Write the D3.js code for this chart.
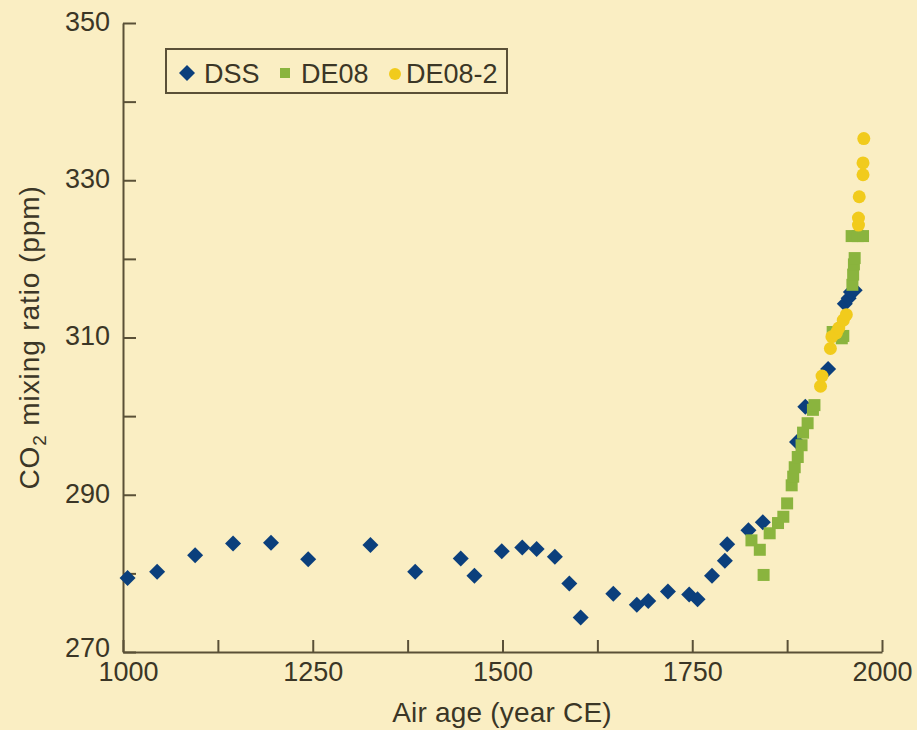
<!DOCTYPE html>
<html>
<head>
<meta charset="utf-8">
<script src="https://cdn.jsdelivr.net/npm/d3@7"></script>
<style>
  html, body { margin: 0; padding: 0; background: #faeec3; }
  svg { display: block; }
  text { font-family: "Liberation Sans", Arial, sans-serif; fill: #3b3626; }
</style>
</head>
<body>
<svg id="chart" width="917" height="730"></svg>
<script>
// CO2 mixing ratio (ppm) by air age (year CE), three ice-core records
const dssYears = [1006, 1045, 1095, 1145, 1195, 1244, 1326, 1385, 1445, 1463,
  1499, 1526, 1545, 1569, 1588, 1603, 1646, 1677, 1692, 1718, 1746, 1757,
  1776, 1793, 1796, 1824, 1843, 1888, 1899, 1929, 1951, 1956, 1959, 1964];
const dssPpm = [279.4, 280.2, 282.3, 283.8, 283.9, 281.8, 283.6, 280.2, 281.9, 279.7,
  282.8, 283.3, 283.1, 282.1, 278.7, 274.4, 277.4, 276.0, 276.5, 277.7, 277.3, 276.7,
  279.7, 281.6, 283.7, 285.5, 286.5, 296.7, 301.2, 306.0, 314.3, 315.0, 315.8, 316.0];

const de08Years = [1828, 1839, 1844, 1852, 1863, 1870, 1875, 1881, 1883, 1885,
  1889, 1894, 1896, 1902, 1909, 1911, 1935, 1947, 1949, 1961, 1962, 1963, 1964,
  1960, 1968, 1975];
const de08Ppm = [284.2, 283.0, 279.8, 285.1, 286.4, 287.2, 288.9, 291.2, 292.3, 293.5,
  294.8, 296.3, 297.9, 299.1, 300.8, 301.4, 310.7, 309.9, 310.2, 316.7, 318.0, 319.3, 320.1,
  322.9, 322.9, 322.9];

const de082Years = [1919, 1921, 1932, 1934, 1940, 1943, 1949, 1953,
  1969, 1969, 1970, 1975, 1975, 1976];
const de082Ppm = [303.8, 305.1, 308.6, 310.1, 310.6, 311.2, 312.2, 312.9,
  324.3, 325.2, 327.9, 330.7, 332.2, 335.3];

const xTicks = [1000, 1125, 1250, 1375, 1500, 1625, 1750, 1875, 2000];
const xTickLabels = [1000, 1250, 1500, 1750, 2000];
const yTicks = [270, 280, 290, 300, 310, 320, 330, 340, 350];
const yTickLabels = [270, 290, 310, 330, 350];

const seriesNames = ["DSS", "DE08", "DE08-2"];
const seriesColors = ["#0b3f7c", "#8ab43e", "#f1cb1c"];

const svg = d3.select("#chart");
const axisColor = "#5a5037";
const fontSize = 27;

const x = d3.scaleLinear().domain([1000, 2000]).range([123, 882]);
const y = d3.scaleLinear().domain([270, 350]).range([652, 23]);

// x axis: ticks point up into the plot
const xAxis = d3.axisBottom(x)
  .tickValues(xTicks)
  .tickSizeInner(-12)
  .tickSizeOuter(0)
  .tickPadding(10)
  .tickFormat(d => xTickLabels.includes(d) ? String(d) : "");
const gx = svg.append("g").attr("transform", `translate(0,${y(270)})`).call(xAxis);

// y axis: ticks point right into the plot
const yAxis = d3.axisLeft(y)
  .tickValues(yTicks)
  .tickSizeInner(-13)
  .tickSizeOuter(0)
  .tickPadding(13)
  .tickFormat(d => yTickLabels.includes(d) ? String(d) : "");
const gy = svg.append("g").attr("transform", `translate(${x(1000)},0)`).call(yAxis);

[gx, gy].forEach(g => {
  g.select(".domain").attr("stroke", axisColor).attr("stroke-width", 2);
  g.selectAll(".tick line").attr("stroke", axisColor).attr("stroke-width", 2);
  g.selectAll(".tick text")
    .attr("font-family", "Liberation Sans, Arial, sans-serif")
    .attr("font-size", fontSize)
    .attr("fill", "#3b3626");
});
gx.selectAll(".tick text").attr("dy", "0.72em");
// the first year label sits a little right of its tick, clear of the "270"
gx.selectAll(".tick text").filter(d => d === 1000).attr("dx", 5);
gy.selectAll(".tick text").attr("dy", "0.27em");
gy.selectAll(".tick text").filter(d => d === 270).attr("dy", "0.18em");

// axis titles
svg.append("text")
  .attr("x", 502).attr("y", 722)
  .attr("text-anchor", "middle")
  .attr("font-size", 28)
  .attr("letter-spacing", 0.2)
  .text("Air age (year CE)");

const yTitle = svg.append("text")
  .attr("transform", `translate(39,${(y(270) + y(350)) / 2}) rotate(-90)`)
  .attr("text-anchor", "middle")
  .attr("font-size", 28)
  .attr("letter-spacing", 0.9);
yTitle.append("tspan").text("CO");
yTitle.append("tspan").attr("font-size", 19).attr("dy", 7).text("2");
yTitle.append("tspan").attr("dy", -7).text(" mixing ratio (ppm)");

// marker shapes
const diamond = (cx, cy, r) => `M${cx},${cy - r}L${cx + r},${cy}L${cx},${cy + r}L${cx - r},${cy}Z`;

const plot = svg.append("g");

plot.selectAll("path.dss")
  .data(dssYears.map((yr, i) => [yr, dssPpm[i]]))
  .join("path")
  .attr("class", "dss")
  .attr("d", d => diamond(x(d[0]), y(d[1]), 8))
  .attr("fill", seriesColors[0]);

plot.selectAll("rect.de08")
  .data(de08Years.map((yr, i) => [yr, de08Ppm[i]]))
  .join("rect")
  .attr("class", "de08")
  .attr("x", d => x(d[0]) - 6)
  .attr("y", d => y(d[1]) - 6)
  .attr("width", 12).attr("height", 12)
  .attr("fill", seriesColors[1]);

plot.selectAll("circle.de082")
  .data(de082Years.map((yr, i) => [yr, de082Ppm[i]]))
  .join("circle")
  .attr("class", "de082")
  .attr("cx", d => x(d[0]))
  .attr("cy", d => y(d[1]))
  .attr("r", 6.5)
  .attr("fill", seriesColors[2]);

// legend
const legend = svg.append("g");
legend.append("rect")
  .attr("x", 166).attr("y", 49).attr("width", 341).attr("height", 44)
  .attr("fill", "none").attr("stroke", axisColor).attr("stroke-width", 2);

const legendItems = [
  { marker: "diamond", mx: 187, tx: 204 },
  { marker: "square", mx: 285, tx: 301 },
  { marker: "circle", mx: 395, tx: 406 }
];
legendItems.forEach((it, i) => {
  const my = 73;
  if (it.marker === "diamond") {
    legend.append("path").attr("d", diamond(it.mx, my, 8)).attr("fill", seriesColors[i]);
  } else if (it.marker === "square") {
    legend.append("rect").attr("x", it.mx - 5).attr("y", my - 5)
      .attr("width", 10).attr("height", 10).attr("fill", seriesColors[i]);
  } else {
    legend.append("circle").attr("cx", it.mx).attr("cy", my + 1).attr("r", 6)
      .attr("fill", seriesColors[i]);
  }
  legend.append("text")
    .attr("x", it.tx).attr("y", my + 10)
    .attr("font-size", fontSize)
    .text(seriesNames[i]);
});
</script>
</body>
</html>
